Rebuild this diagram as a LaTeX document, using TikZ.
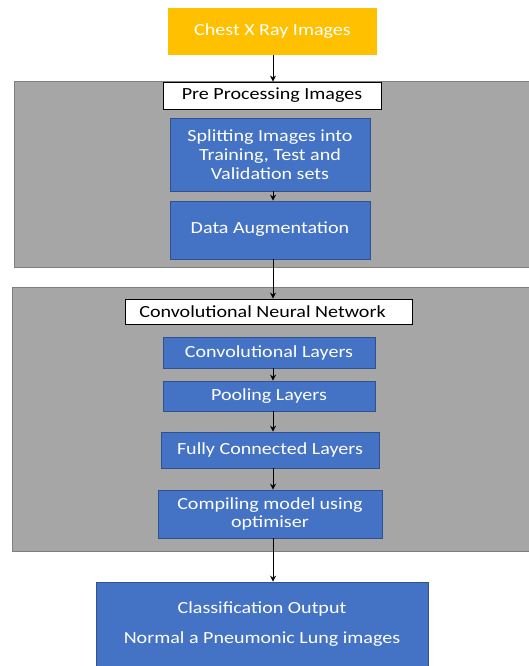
\documentclass[tikz,border=0pt]{standalone}
\usepackage{fontspec}
\setmainfont{Carlito}[FakeStretch=1.18]
\usetikzlibrary{arrows.meta}
\definecolor{ybox}{HTML}{FFC000}
\definecolor{bbox}{HTML}{4472C4}
\definecolor{bedge}{HTML}{2F528F}
\definecolor{gpanel}{HTML}{A6A6A6}
\definecolor{gedge}{HTML}{7F7F7F}
\tikzset{
  panel/.style={fill=gpanel, draw=gedge, line width=0.8pt},
  bluebox/.style={fill=bbox, draw=bedge, line width=0.6pt, text=white, align=center, inner sep=0pt, font=\fontsize{17}{19}\selectfont},
  whitebox/.style={fill=white, draw=black, line width=0.8pt, text=black, inner sep=0pt, font=\fontsize{17}{19}\selectfont},
  yellowbox/.style={fill=ybox, draw=none, text=white, inner sep=0pt, font=\fontsize{17}{19}\selectfont},
  flow/.style={draw=black, line width=1pt, -{Stealth[length=6pt,width=6pt]}}
}
\begin{document}
\begin{tikzpicture}[x=1pt,y=-1pt]
\useasboundingbox (0,0) rectangle (529,666);
% panels
\draw[panel] (14,81) rectangle (530,267);
\draw[panel] (12,287) rectangle (530,551);
% axis for arrows
\coordinate (ax) at (273,0);
% nodes
\node[yellowbox, minimum width=209pt, minimum height=47pt] (chest) at (272.5,31.5) {Chest X Ray Images};
\node[whitebox, minimum width=218pt, minimum height=27pt] (pre) at (272,95.5) {Pre Processing Images};
\node[bluebox, minimum width=200pt, minimum height=73pt] (split) at (270,154.5) {Splitting Images into\\Training, Test and\\Validation sets};
\node[bluebox, minimum width=200pt, minimum height=58pt] (da) at (270,230) {\raisebox{5pt}{Data Augmentation}};
\node[whitebox, minimum width=287pt, minimum height=25pt] (cnn) at (268.5,311.5) {Convolutional Neural Network\hspace*{12pt}};
\node[bluebox, minimum width=212pt, minimum height=31pt] (conv) at (269,352.5) {Convolutional Layers};
\node[bluebox, minimum width=212pt, minimum height=30pt] (pool) at (269,396) {Pooling Layers};
\node[bluebox, minimum width=218pt, minimum height=36pt] (fc) at (270,450) {Fully Connected Layers};
\node[bluebox, minimum width=224pt, minimum height=48pt, font=\fontsize{17}{18}\selectfont] (comp) at (270,514) {Compiling model using\\optimiser};
\node[bluebox, minimum width=332pt, minimum height=84pt, font=\fontsize{17}{30}\selectfont] (cls) at (262,624) {Classification Output\\Normal a Pneumonic Lung images};
% connectors
\draw[flow] (chest.south -| ax) -- (pre.north -| ax);
\draw[flow] (split.south -| ax) -- (da.north -| ax);
\draw[flow] (da.south -| ax) -- (cnn.north -| ax);
\draw[flow] (conv.south -| ax) -- (pool.north -| ax);
\draw[flow] (pool.south -| ax) -- (fc.north -| ax);
\draw[flow] (fc.south -| ax) -- (comp.north -| ax);
\draw[flow] (comp.south -| ax) -- (cls.north -| ax);
\end{tikzpicture}
\end{document}
